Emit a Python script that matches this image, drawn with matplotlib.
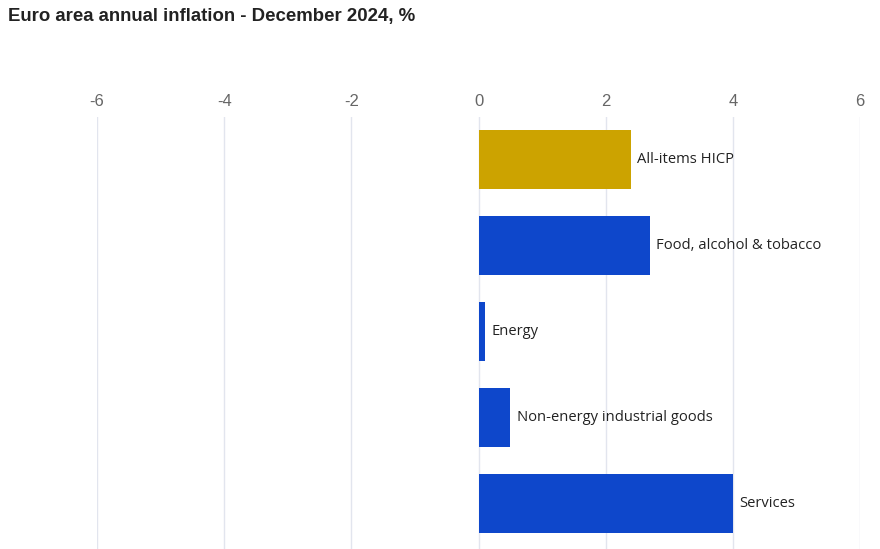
import numpy as np
import matplotlib.pyplot as plt

# data
categories = ["All-items HICP", "Food, alcohol & tobacco", "Energy",
              "Non-energy industrial goods", "Services"]
values = [2.4, 2.7, 0.1, 0.5, 4.0]
colors = ["#CCA300", "#0E47CB", "#0E47CB", "#0E47CB", "#0E47CB"]
ticks = [-6, -4, -2, 0, 2, 4, 6]

fig = plt.figure(figsize=(8.8, 5.49), dpi=100)
ax = fig.add_axes([97 / 880, 0, (860 - 97) / 880, 432 / 549])

y = np.arange(len(categories))
ax.barh(y, values, height=0.686, color=colors, zorder=2)

for yi, v, name in zip(y, values, categories):
    ax.annotate(name, (v, yi), xytext=(4.5, 0), textcoords="offset points",
                va="center", ha="left", fontsize=10.6, color="#222222",
                family=["Open Sans", "DejaVu Sans"])

ax.set_xlim(-6, 6)
ax.set_ylim(4.53, -0.494)
ax.set_xticks(ticks)
ax.set_xticklabels([str(t) for t in ticks], family="Liberation Sans",
                   fontsize=12, color="#666666")
ax.xaxis.tick_top()
ax.tick_params(axis="x", length=0, pad=6)
ax.set_yticks([])
ax.grid(axis="x", color="#E2E5EE", linewidth=1, zorder=0)
for s in ax.spines.values():
    s.set_visible(False)

fig.text(8 / 880, 1 - 17 / 549, "Euro area annual inflation - December 2024, %",
         family="Liberation Sans", fontweight="bold", fontsize=13.4,
         color="#222222", va="center", ha="left")

fig.savefig("out.png", dpi=100)
